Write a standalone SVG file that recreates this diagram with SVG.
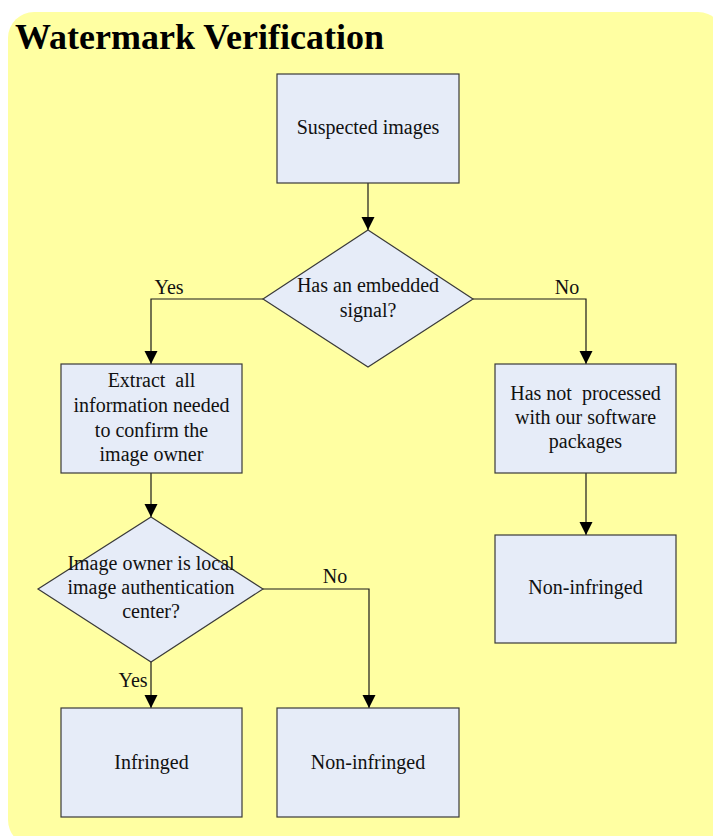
<svg xmlns="http://www.w3.org/2000/svg" width="713" height="836" viewBox="0 0 713 836">
<style>
.node{fill:#E6ECF8;stroke:#3a3a3a;stroke-width:1.2}
.t{font-family:"Liberation Serif","Times New Roman",serif;font-size:20px;fill:#111;text-anchor:middle;white-space:pre}
.lbl{font-family:"Liberation Serif","Times New Roman",serif;font-size:20px;fill:#111;text-anchor:middle}
.c{fill:none;stroke:#1a1a1a;stroke-width:1.2}
</style>
<defs>
<marker id="ah" markerUnits="userSpaceOnUse" markerWidth="14" markerHeight="14" refX="13" refY="6.5" orient="auto">
<path d="M0,0 L13,6.5 L0,13 z" fill="#000"/>
</marker>
</defs>
<rect x="8" y="12" width="716" height="834" rx="26" ry="26" fill="#FFFFA2"/>
<text x="15" y="49" font-family="Liberation Serif,'Times New Roman',serif" font-size="36" font-weight="bold" fill="#000">Watermark Verification</text>
<g id="connectors">
<path class="c" d="M368,183 V230" marker-end="url(#ah)"/>
<path class="c" d="M263,299 H151 V364" marker-end="url(#ah)"/>
<path class="c" d="M473,299 H586 V364" marker-end="url(#ah)"/>
<path class="c" d="M151,473 V517" marker-end="url(#ah)"/>
<path class="c" d="M586,473 V535" marker-end="url(#ah)"/>
<path class="c" d="M263,589 H369 V708" marker-end="url(#ah)"/>
<path class="c" d="M151,662 V708" marker-end="url(#ah)"/>
<text class="lbl" x="169" y="294">Yes</text>
<text class="lbl" x="567" y="294">No</text>
<text class="lbl" x="335" y="583">No</text>
<text class="lbl" x="133" y="687">Yes</text>
</g>
<g id="suspected">
<rect class="node" x="277" y="74" width="182" height="109"/>
<text class="t" x="368" y="134">Suspected images</text>
</g>
<g id="embedded">
<polygon class="node" points="368,230 473,299 368,367 263,299"/>
<text class="t" x="368" y="292">Has an embedded</text>
<text class="t" x="368" y="317">signal?</text>
</g>
<g id="extract">
<rect class="node" x="61" y="364" width="181" height="109"/>
<text class="t" x="151.5" y="387" xml:space="preserve">Extract  all</text>
<text class="t" x="151.5" y="412">information needed</text>
<text class="t" x="151.5" y="437">to confirm the</text>
<text class="t" x="151.5" y="461">image owner</text>
</g>
<g id="notprocessed">
<rect class="node" x="495" y="364" width="181" height="109"/>
<text class="t" x="585.5" y="400" xml:space="preserve">Has not  processed</text>
<text class="t" x="585.5" y="424">with our software</text>
<text class="t" x="585.5" y="448">packages</text>
</g>
<g id="ownerlocal">
<polygon class="node" points="151,517 263,589 151,662 38,589"/>
<text class="t" x="151" y="570">Image owner is local</text>
<text class="t" x="151" y="594">image authentication</text>
<text class="t" x="151" y="618">center?</text>
</g>
<g id="noninfringed1">
<rect class="node" x="495" y="535" width="181" height="108"/>
<text class="t" x="585.5" y="594">Non-infringed</text>
</g>
<g id="infringed">
<rect class="node" x="61" y="708" width="181" height="109"/>
<text class="t" x="151.5" y="769">Infringed</text>
</g>
<g id="noninfringed2">
<rect class="node" x="277" y="708" width="182" height="109"/>
<text class="t" x="368" y="769">Non-infringed</text>
</g>
</svg>
